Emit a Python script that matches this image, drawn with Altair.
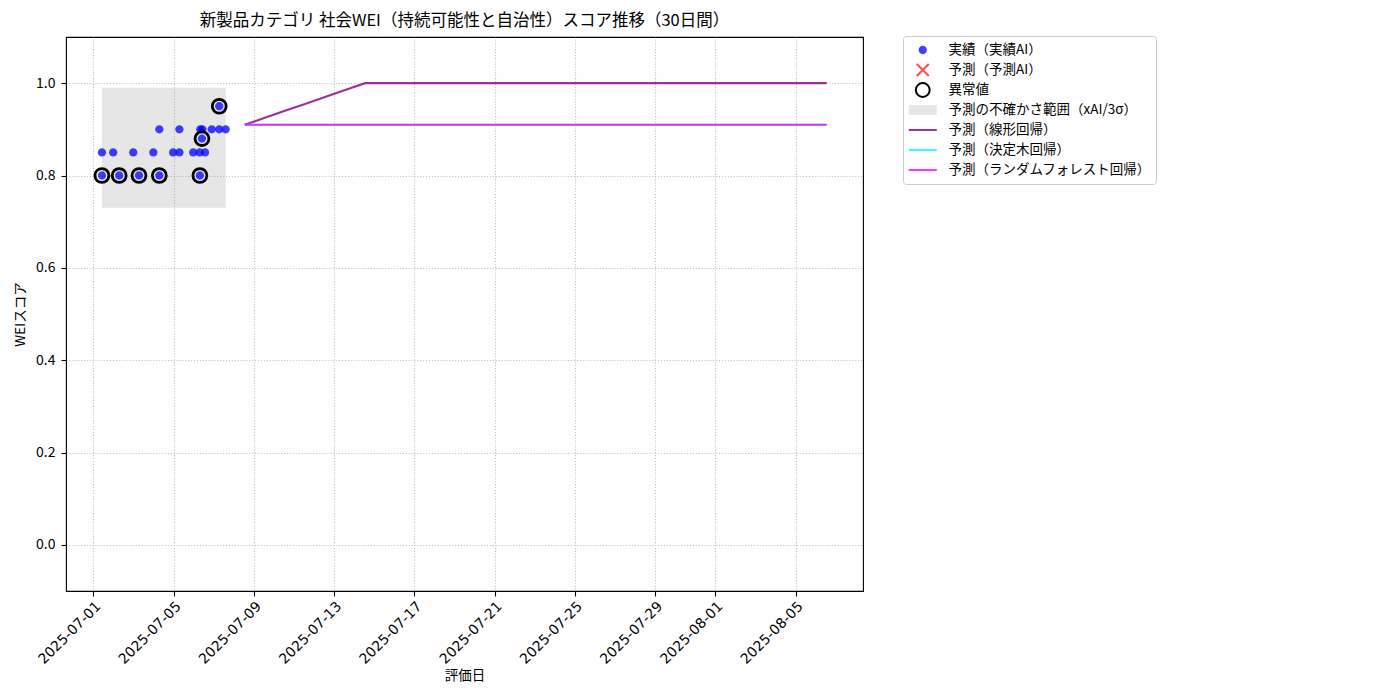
import altair as alt
import pandas as pd

FONT = "Noto Sans CJK JP"
TICK_FONT = "DejaVu Sans"

# ---------------- data ----------------
series_labels = [
    "実績（実績AI）",
    "予測（予測AI）",
    "異常値",
    "予測の不確かさ範囲（xAI/3σ）",
    "予測（線形回帰）",
    "予測（決定木回帰）",
    "予測（ランダムフォレスト回帰）",
]

actual_dates = [
    "2025-07-01T10:20", "2025-07-01T10:20", "2025-07-01T23:50", "2025-07-02T07:00",
    "2025-07-02T23:50", "2025-07-03T06:40", "2025-07-03T23:50", "2025-07-04T07:00",
    "2025-07-04T07:00", "2025-07-04T23:30", "2025-07-05T07:00", "2025-07-05T07:00",
    "2025-07-05T23:30", "2025-07-06T07:10", "2025-07-06T07:30", "2025-07-06T08:00",
    "2025-07-06T10:00", "2025-07-06T10:30", "2025-07-06T13:40", "2025-07-06T21:40",
    "2025-07-07T06:40", "2025-07-07T06:40", "2025-07-07T14:20",
]
actual_scores = [
    0.85, 0.80, 0.85, 0.80,
    0.85, 0.80, 0.85, 0.80,
    0.90, 0.85, 0.85, 0.90,
    0.85, 0.85, 0.80, 0.90,
    0.88, 0.90, 0.85, 0.90,
    0.95, 0.90, 0.90,
]

anomaly_dates = [
    "2025-07-01T10:20", "2025-07-02T07:00", "2025-07-03T06:40", "2025-07-04T07:00",
    "2025-07-06T07:30", "2025-07-06T10:00", "2025-07-07T06:40",
]
anomaly_scores = [0.80, 0.80, 0.80, 0.80, 0.80, 0.88, 0.95]

band_start = "2025-07-01T10:20"
band_end = "2025-07-07T14:20"
band_low = 0.73
band_high = 0.99

forecast_dates = [
    "2025-07-08T13:12", "2025-07-09T13:12", "2025-07-10T13:12", "2025-07-11T13:12",
    "2025-07-12T13:12", "2025-07-13T13:12", "2025-07-14T13:12", "2025-07-15T13:12",
    "2025-07-16T13:12", "2025-07-17T13:12", "2025-07-18T13:12", "2025-07-19T13:12",
    "2025-07-20T13:12", "2025-07-21T13:12", "2025-07-22T13:12", "2025-07-23T13:12",
    "2025-07-24T13:12", "2025-07-25T13:12", "2025-07-26T13:12", "2025-07-27T13:12",
    "2025-07-28T13:12", "2025-07-29T13:12", "2025-07-30T13:12", "2025-07-31T13:12",
    "2025-08-01T13:12", "2025-08-02T13:12", "2025-08-03T13:12", "2025-08-04T13:12",
    "2025-08-05T13:12", "2025-08-06T13:12",
]
linear_values = [
    0.91, 0.925, 0.94, 0.955, 0.97, 0.985, 1.0, 1.0, 1.0, 1.0,
    1.0, 1.0, 1.0, 1.0, 1.0, 1.0, 1.0, 1.0, 1.0, 1.0,
    1.0, 1.0, 1.0, 1.0, 1.0, 1.0, 1.0, 1.0, 1.0, 1.0,
]
tree_values = [0.91] * 30
forest_values = [0.91] * 30

x_tick_labels = [
    "2025-07-01", "2025-07-05", "2025-07-09", "2025-07-13", "2025-07-17",
    "2025-07-21", "2025-07-25", "2025-07-29", "2025-08-01", "2025-08-05",
]
y_tick_values = [0.0, 0.2, 0.4, 0.6, 0.8, 1.0]

# ---------------- styling ----------------
fill_range = [
    "rgba(0,0,255,0.75)", "transparent", "transparent", "rgba(128,128,128,0.2)",
    "transparent", "transparent", "transparent",
]
stroke_range = [
    "transparent", "rgba(255,0,0,0.7)", "black", "transparent",
    "rgba(128,0,128,0.8)", "rgba(0,255,255,0.8)", "rgba(255,0,255,0.8)",
]
circle_path = "M0.83,0A0.83,0.83,0,1,1,-0.83,0A0.83,0.83,0,1,1,0.83,0Z"
ring_path = "M1.39,0A1.39,1.39,0,1,1,-1.39,0A1.39,1.39,0,1,1,1.39,0Z"
x_path = "M-1.2,-1.2L1.2,1.2M1.2,-1.2L-1.2,1.2"
rect_path = "M-2.8,-0.97L2.8,-0.97L2.8,0.97L-2.8,0.97Z"
line_path = "M-2.8,0L2.8,0"
shape_range = [circle_path, x_path, ring_path, rect_path, line_path, line_path, line_path]

fill_scale = alt.Scale(domain=series_labels, range=fill_range)
stroke_scale = alt.Scale(domain=series_labels, range=stroke_range)
shape_scale = alt.Scale(domain=series_labels, range=shape_range)
legend = alt.Legend(title=None)


def to_dt(s):
    y, m, d = s.split("-")
    return alt.DateTime(year=int(y), month=int(m), date=int(d))


x_scale = alt.Scale(domain=[
    alt.DateTime(year=2025, month=6, date=29, hours=15, minutes=22),
    alt.DateTime(year=2025, month=8, date=8, hours=8, minutes=38),
])
x_axis = alt.Axis(values=[to_dt(s) for s in x_tick_labels], format="%Y-%m-%d",
                  labelAngle=-45, title="評価日", labelPadding=3, titlePadding=2,
                  labelOverlap=False, labelFont=TICK_FONT, labelFontSize=14)
y_scale = alt.Scale(domain=[-0.1, 1.1], nice=False, zero=False)
y_axis = alt.Axis(values=y_tick_values, format=".1f", title="WEIスコア",
                  labelPadding=6, titlePadding=8, labelFont=FONT, labelFontSize=14)

# ---------------- frames ----------------
actual_df = pd.DataFrame({"date": actual_dates, "score": actual_scores, "series": series_labels[0]})
anom_df = pd.DataFrame({"date": anomaly_dates, "score": anomaly_scores, "series": series_labels[2]})
band_df = pd.DataFrame({"start": [band_start], "end": [band_end], "low": [band_low],
                        "high": [band_high], "series": [series_labels[3]]})
fc_df = pd.concat([
    pd.DataFrame({"date": forecast_dates, "score": linear_values, "series": series_labels[4]}),
    pd.DataFrame({"date": forecast_dates, "score": tree_values, "series": series_labels[5]}),
    pd.DataFrame({"date": forecast_dates, "score": forest_values, "series": series_labels[6]}),
])

band = alt.Chart(band_df).mark_rect().encode(
    x=alt.X("start:T", scale=x_scale, axis=x_axis),
    x2="end:T",
    y=alt.Y("low:Q", scale=y_scale, axis=y_axis),
    y2="high:Q",
    fill=alt.Fill("series:N", scale=fill_scale, legend=legend),
)

points = alt.Chart(actual_df).mark_point(size=100, opacity=1, strokeWidth=0).encode(
    x=alt.X("date:T", scale=x_scale, axis=x_axis),
    y=alt.Y("score:Q", scale=y_scale, axis=y_axis),
    fill=alt.Fill("series:N", scale=fill_scale, legend=legend),
    stroke=alt.Stroke("series:N", scale=stroke_scale, legend=legend),
    shape=alt.Shape("series:N", scale=shape_scale, legend=legend),
)

anoms = alt.Chart(anom_df).mark_point(size=100, opacity=1, strokeWidth=2.8).encode(
    x=alt.X("date:T", scale=x_scale, axis=x_axis),
    y=alt.Y("score:Q", scale=y_scale, axis=y_axis),
    fill=alt.Fill("series:N", scale=fill_scale, legend=legend),
    stroke=alt.Stroke("series:N", scale=stroke_scale, legend=legend),
    shape=alt.Shape("series:N", scale=shape_scale, legend=legend),
)

lines = alt.Chart(fc_df).mark_line(strokeWidth=2.1).encode(
    x=alt.X("date:T", scale=x_scale, axis=x_axis),
    y=alt.Y("score:Q", scale=y_scale, axis=y_axis),
    stroke=alt.Stroke("series:N", scale=stroke_scale, legend=legend),
    detail="series:N",
)

chart = alt.layer(band, points, anoms, lines).properties(
    width=797,
    height=554,
    title=alt.TitleParams(
        "新製品カテゴリ 社会WEI（持続可能性と自治性）スコア推移（30日間）",
        font=FONT, fontSize=16.5, fontWeight="normal", color="black",
        anchor="middle", offset=6,
    ),
    autosize=alt.AutoSizeParams(type="none"),
    padding={"left": 58, "top": 29, "right": 480, "bottom": 105},
).configure_view(
    stroke="black", strokeWidth=1.1,
).configure_axis(
    titleFont=FONT, titleFontSize=13.5,
    titleFontWeight="normal", labelColor="black", titleColor="black",
    tickColor="black", tickSize=5, tickWidth=1.1, domain=False,
    gridColor="#b0b0b0", gridDash=[1.1, 1.8], gridWidth=1.1, gridOpacity=0.8,
).configure_legend(
    orient="none", legendX=837, legendY=-1, padding=5,
    strokeColor="#cccccc", cornerRadius=3, fillColor="white",
    symbolSize=100, symbolStrokeWidth=2, clipHeight=18, rowPadding=2,
    labelFont=FONT, labelFontSize=13.5, labelColor="black",
    symbolOffset=8, labelOffset=19, labelLimit=400,
)

chart.save("out.html", embed_options={"renderer": "svg", "actions": False})
